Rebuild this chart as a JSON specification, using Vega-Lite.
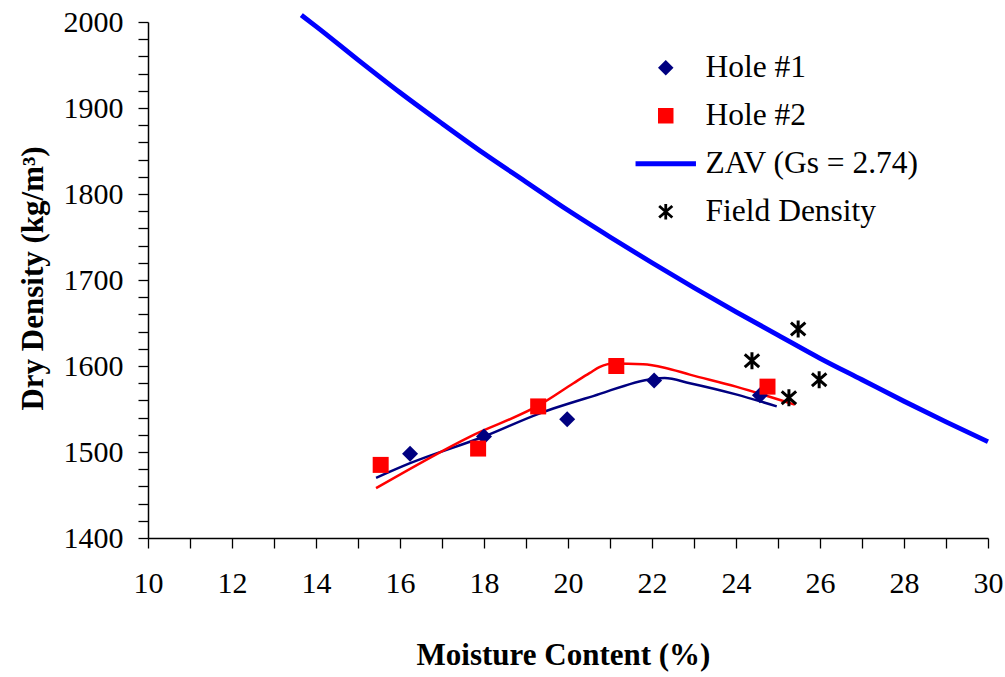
{
  "$schema": "https://vega.github.io/schema/vega-lite/v6.json",
  "width": 840,
  "height": 516,
  "autosize": {"type": "none"},
  "padding": {"left": 148, "top": 22, "right": 17, "bottom": 139},
  "background": "white",
  "config": {"view": {"stroke": null}, "font": "Liberation Serif, Times New Roman, serif"},
  "datasets": {
    "zav": [
      {"moisture": 13.65, "density": 2008},
      {"moisture": 14, "density": 1995},
      {"moisture": 15, "density": 1956},
      {"moisture": 16, "density": 1918},
      {"moisture": 17, "density": 1882},
      {"moisture": 18, "density": 1847},
      {"moisture": 19, "density": 1814},
      {"moisture": 20, "density": 1781},
      {"moisture": 21, "density": 1750},
      {"moisture": 22, "density": 1720},
      {"moisture": 23, "density": 1691},
      {"moisture": 24, "density": 1663},
      {"moisture": 25, "density": 1636},
      {"moisture": 26, "density": 1609},
      {"moisture": 27, "density": 1584},
      {"moisture": 28, "density": 1559},
      {"moisture": 29, "density": 1535},
      {"moisture": 30, "density": 1512}
    ],
    "fit1": [
      {"moisture": 15.43, "density": 1470},
      {"moisture": 16.24, "density": 1487},
      {"moisture": 18.0, "density": 1518},
      {"moisture": 19.33, "density": 1545},
      {"moisture": 20.6, "density": 1565},
      {"moisture": 22.02, "density": 1585},
      {"moisture": 22.3, "density": 1586},
      {"moisture": 22.9, "density": 1580},
      {"moisture": 24.0, "density": 1567},
      {"moisture": 24.97, "density": 1553}
    ],
    "fit2": [
      {"moisture": 15.43, "density": 1458},
      {"moisture": 17.67, "density": 1518},
      {"moisture": 19.33, "density": 1555},
      {"moisture": 20.13, "density": 1580},
      {"moisture": 20.52, "density": 1592},
      {"moisture": 20.76, "density": 1599},
      {"moisture": 21.07, "density": 1603},
      {"moisture": 21.79, "density": 1602},
      {"moisture": 22.3, "density": 1598},
      {"moisture": 22.9, "density": 1590},
      {"moisture": 24.0, "density": 1576},
      {"moisture": 25.4, "density": 1555}
    ],
    "points": [
      {"moisture": 16.24, "density": 1498, "series": "Hole #1"},
      {"moisture": 18.0, "density": 1518, "series": "Hole #1"},
      {"moisture": 19.98, "density": 1538, "series": "Hole #1"},
      {"moisture": 22.05, "density": 1583, "series": "Hole #1"},
      {"moisture": 24.57, "density": 1566, "series": "Hole #1"},
      {"moisture": 15.54, "density": 1485, "series": "Hole #2"},
      {"moisture": 17.86, "density": 1504, "series": "Hole #2"},
      {"moisture": 19.29, "density": 1553, "series": "Hole #2"},
      {"moisture": 21.15, "density": 1600, "series": "Hole #2"},
      {"moisture": 24.75, "density": 1576, "series": "Hole #2"},
      {"moisture": 24.38, "density": 1606, "series": "Field Density"},
      {"moisture": 25.48, "density": 1643, "series": "Field Density"},
      {"moisture": 25.26, "density": 1563, "series": "Field Density"},
      {"moisture": 25.98, "density": 1584, "series": "Field Density"}
    ]
  },
  "encoding": {
    "x": {
      "field": "moisture",
      "type": "quantitative",
      "scale": {"domain": [10, 30], "nice": false, "zero": false},
      "axis": {
        "values": [10, 11, 12, 13, 14, 15, 16, 17, 18, 19, 20, 21, 22, 23, 24, 25, 26, 27, 28, 29, 30],
        "format": "d",
        "labelExpr": "datum.value % 2 === 0 ? datum.label : ''",
        "labelOverlap": false,
        "labelFlush": false,
        "tickSize": 10,
        "labelPadding": 20,
        "labelFont": "Liberation Serif, Times New Roman, serif",
        "labelFontSize": 30,
        "labelColor": "#000000",
        "domainColor": "#000000",
        "domainWidth": 1.5,
        "tickColor": "#000000",
        "tickWidth": 1.3,
        "grid": false,
        "title": "Moisture Content (%)",
        "titleFont": "Liberation Serif, Times New Roman, serif",
        "titleFontSize": 31,
        "titleFontWeight": "bold",
        "titleColor": "#000000",
        "titleX": 415,
        "titleY": 117,
        "titleAlign": "center",
        "titleBaseline": "middle",
        "encode": {"ticks": {"update": {"y": {"signal": "datum.value % 2 === 0 ? -10 : 0"}}}}
      }
    },
    "y": {
      "field": "density",
      "type": "quantitative",
      "scale": {"domain": [1400, 2000], "nice": false, "zero": false},
      "axis": {
        "values": [1400, 1420, 1440, 1460, 1480, 1500, 1520, 1540, 1560, 1580, 1600, 1620, 1640, 1660, 1680, 1700, 1720, 1740, 1760, 1780, 1800, 1820, 1840, 1860, 1880, 1900, 1920, 1940, 1960, 1980, 2000],
        "format": "d",
        "labelExpr": "datum.value % 100 === 0 ? datum.label : ''",
        "labelOverlap": false,
        "labelFlush": false,
        "tickSize": 10,
        "labelPadding": 15,
        "labelFont": "Liberation Serif, Times New Roman, serif",
        "labelFontSize": 30,
        "labelColor": "#000000",
        "domainColor": "#000000",
        "domainWidth": 1.5,
        "tickColor": "#000000",
        "tickWidth": 1.3,
        "grid": false,
        "title": "Dry Density (kg/m³)",
        "titleFont": "Liberation Serif, Times New Roman, serif",
        "titleFontSize": 31,
        "titleFontWeight": "bold",
        "titleColor": "#000000",
        "titleAngle": -90,
        "titleX": -115,
        "titleY": 256,
        "titleAlign": "center",
        "titleBaseline": "middle",
        "encode": {"ticks": {"update": {"x": {"signal": "datum.value % 100 === 0 ? 10 : 0"}}}}
      }
    }
  },
  "layer": [
    {
      "data": {"name": "zav"},
      "mark": {"type": "line", "color": "#0000FF", "strokeWidth": 4.8, "clip": false, "interpolate": "monotone"}
    },
    {
      "data": {"name": "fit1"},
      "mark": {"type": "line", "color": "#000080", "strokeWidth": 2.5, "interpolate": "monotone"}
    },
    {
      "data": {"name": "fit2"},
      "mark": {"type": "line", "color": "#FF0000", "strokeWidth": 2.5, "interpolate": "monotone"}
    },
    {
      "data": {"name": "points"},
      "transform": [{"filter": {"field": "series", "oneOf": ["Hole #1", "Hole #2"]}}],
      "mark": {"type": "point", "filled": true, "opacity": 1, "size": 256},
      "encoding": {
        "color": {
          "field": "series", "type": "nominal",
          "scale": {"domain": ["Hole #1", "Hole #2", "ZAV (Gs = 2.74)", "Field Density"], "range": ["#000080", "#FF0000", "#0000FF", "#000000"]},
          "legend": {
            "title": null, "orient": "none", "legendX": 502, "legendY": 30, "padding": 0,
            "labelFont": "Liberation Serif, Times New Roman, serif", "labelFontSize": 31.5, "labelColor": "#000000", "labelOffset": 24,
            "rowPadding": 15, "symbolSize": 240, "symbolOpacity": 1, "labelLimit": 400,
            "encode": {"symbols": {"update": {
              "fill": {"scale": "color", "field": "value"},
              "stroke": {"scale": "color", "field": "value"},
              "strokeWidth": {"signal": "datum.value === 'ZAV (Gs = 2.74)' ? 4.8 : (datum.value === 'Field Density' ? 2.8 : 0)"}
            }}}
          }
        },
        "shape": {
          "field": "series", "type": "nominal",
          "scale": {"domain": ["Hole #1", "Hole #2", "ZAV (Gs = 2.74)", "Field Density"], "range": ["diamond", "square", "M-3.9,0L3.9,0", "M-0.85,-0.75L0.85,0.75M-0.85,0.75L0.85,-0.75M0,-1L0,1"]},
          "legend": {
            "title": null, "orient": "none", "legendX": 502, "legendY": 30, "padding": 0,
            "labelFont": "Liberation Serif, Times New Roman, serif", "labelFontSize": 31.5, "labelColor": "#000000", "labelOffset": 24,
            "rowPadding": 15, "symbolSize": 240, "symbolOpacity": 1, "labelLimit": 400,
            "encode": {"symbols": {"update": {
              "fill": {"scale": "color", "field": "value"},
              "stroke": {"scale": "color", "field": "value"},
              "strokeWidth": {"signal": "datum.value === 'ZAV (Gs = 2.74)' ? 4.8 : (datum.value === 'Field Density' ? 2.8 : 0)"}
            }}}
          }
        }
      }
    },
    {
      "data": {"name": "points"},
      "transform": [{"filter": {"field": "series", "equal": "Field Density"}}],
      "mark": {"type": "point", "filled": false, "opacity": 1, "size": 289, "strokeWidth": 3},
      "encoding": {
        "color": {"field": "series", "type": "nominal"},
        "shape": {"field": "series", "type": "nominal"}
      }
    }
  ]
}
